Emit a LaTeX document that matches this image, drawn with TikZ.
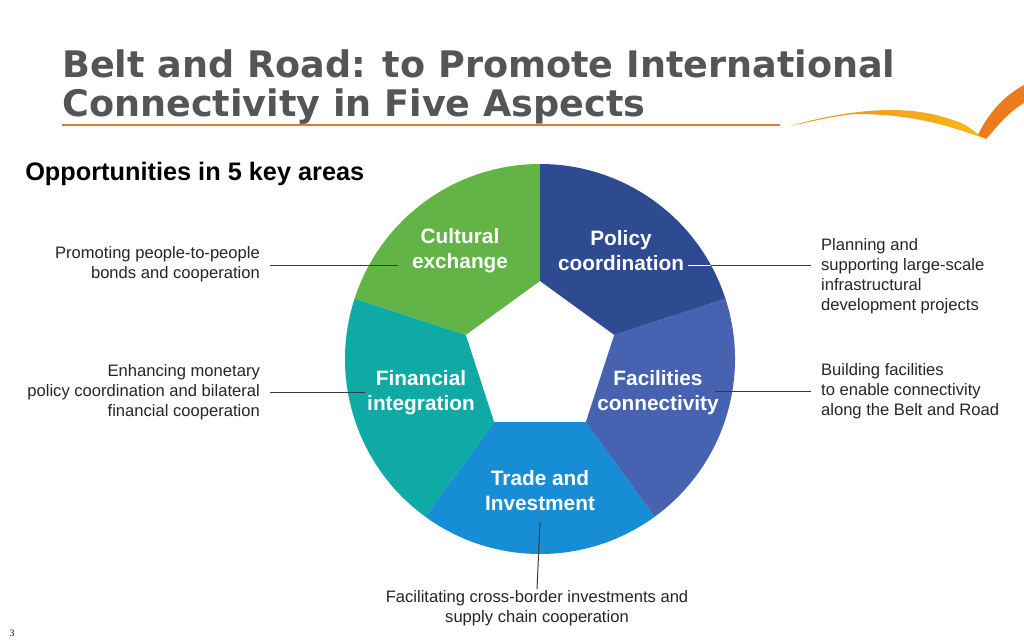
\documentclass[tikz,border=0pt]{standalone}
\usepackage{fontspec}
\setmainfont{Liberation Sans}
\newfontfamily\titlefont{DejaVu Sans}
\newfontfamily\pagefont{Liberation Serif}
\usepackage{tikz}
\usetikzlibrary{calc}
\definecolor{titlegray}{HTML}{555557}
\definecolor{lineorange}{HTML}{E8782A}
\definecolor{swooshyellow}{HTML}{F7B81C}
\definecolor{swooshorange}{HTML}{EE7A1E}
\definecolor{culture}{HTML}{62B446}
\definecolor{policy}{HTML}{2E4A91}
\definecolor{facility}{HTML}{4662B0}
\definecolor{trade}{HTML}{168DD4}
\definecolor{finance}{HTML}{10AAA5}
\definecolor{leader}{HTML}{3A3A3A}
\tikzset{
  title/.style={inner sep=0, text=titlegray, font=\titlefont\bfseries\fontsize{26}{31}\selectfont},
  segtext/.style={align=center, text=white, inner sep=0, font=\bfseries\fontsize{14.8}{17.8}\selectfont},
  desc/.style={inner xsep=7pt, inner ysep=1pt, text=black!85, font=\fontsize{11.8}{14.2}\selectfont},
  leaderline/.style={draw=leader, line width=0.7pt}
}
\begin{document}
\begin{tikzpicture}[x=0.025cm, y=0.025cm]
\fill[white] (0,0) rectangle (1024,640);
\useasboundingbox (0,0) rectangle (1024,640);
% title
\node[title, anchor=base west] (titleA) at (62,562) {Belt and Road: to Promote International};
\node[title, anchor=base west] (titleB) at (62,523) {Connectivity in Five Aspects};
\draw[lineorange, line width=1.4pt] (62,515) -- (780,515);
% swoosh
\shade[left color=swooshorange!70!swooshyellow, right color=swooshyellow]
  (790,514) .. controls (840,528) and (900,538) .. (950,521)
  .. controls (965,516) .. (983,502)
  .. controls (955,512) and (925,522) .. (883,525)
  .. controls (850,527) .. (790,514) -- cycle;
\fill[swooshorange]
  (978,505) .. controls (986,522) and (1000,542) .. (1024,555)
  -- (1024,537) .. controls (1006,526) and (996,512) .. (986,501) -- cycle;
\node[anchor=base west, inner sep=0, font=\bfseries\fontsize{18}{21}\selectfont] (areas) at (25,459) {Opportunities in 5 key areas};
% wheel
\begin{scope}[shift={(540,281)}]
\fill[culture] (90:78) -- (90:195) arc[start angle=90, end angle=162, radius=195] -- (162:78) -- cycle;
\fill[finance] (162:78) -- (162:195) arc[start angle=162, end angle=234, radius=195] -- (234:78) -- cycle;
\fill[trade] (234:78) -- (234:195) arc[start angle=234, end angle=306, radius=195] -- (306:78) -- cycle;
\fill[facility] (306:78) -- (306:195) arc[start angle=306, end angle=378, radius=195] -- (18:78) -- cycle;
\fill[policy] (18:78) -- (18:195) arc[start angle=18, end angle=90, radius=195] -- (90:78) -- cycle;
\node[segtext] (cult) at (-80,108) {Cultural\\exchange};
\node[segtext] (pol) at (81,108) {Policy\\coordination};
\node[segtext] (fin) at (-119,-34) {Financial\\integration};
\node[segtext] (fac) at (118,-34) {Facilities\\connectivity};
\node[segtext] (trd) at (0,-132) {Trade and\\Investment};
\end{scope}
% descriptions
\node[desc, align=right, anchor=east] (cultDesc) at (270,376) {Promoting people-to-people\\bonds and cooperation};
\node[desc, align=right, anchor=east] (finDesc) at (270,248) {Enhancing monetary\\policy coordination and bilateral\\financial cooperation};
\node[desc, align=left, anchor=west] (planDesc) at (811,364) {Planning and\\supporting large-scale\\infrastructural\\development projects};
\node[desc, align=left, anchor=west] (facDesc) at (811,249) {Building facilities\\to enable connectivity\\along the Belt and Road};
\node[desc, align=center, anchor=north] (trdDesc) at (537,51) {Facilitating cross-border investments and\\supply chain cooperation};
% leaders
\coordinate (cultEnd) at (398,375);
\coordinate (finEnd) at (365,248);
\coordinate (polEnd) at (688,375);
\coordinate (polRim) at (711,375);
\coordinate (facEnd) at (715,249);
\coordinate (trdEnd) at (540,118);
\draw[leaderline] (cultDesc.east |- cultEnd) -- (cultEnd);
\draw[leaderline] (finDesc.east) -- (finEnd);
\draw[white, line width=0.7pt] (polEnd) -- (polRim);
\draw[leaderline] (polRim) -- (polRim -| planDesc.west);
\draw[leaderline] (facEnd) -- (facDesc.west);
\draw[leaderline] (trdEnd) -- (trdDesc.north);
\node[font=\pagefont\fontsize{7}{8}\selectfont, inner sep=0] (pageno) at (12,7) {3};
\end{tikzpicture}
\end{document}
